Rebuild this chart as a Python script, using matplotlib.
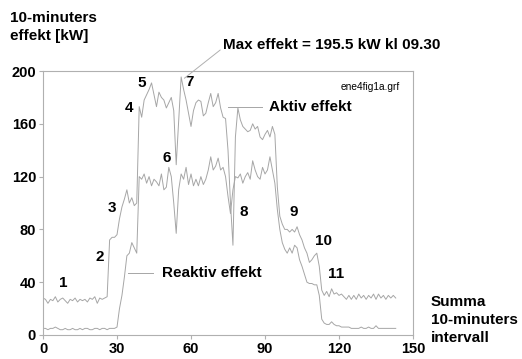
import numpy as np
import matplotlib
matplotlib.use("Agg")
import matplotlib.pyplot as plt

plt.rcParams['font.family'] = ['Liberation Sans', 'DejaVu Sans']

# 10-minute intervals 0..143
aktiv = [28, 27, 24, 27, 26, 29, 25, 27, 28, 26, 24, 27, 26, 28, 25, 27, 26, 27, 25, 28,
         27, 29, 24, 28, 27, 28, 29, 72, 74, 74, 76, 88, 97, 103, 110, 100, 104, 98, 100, 173,
         165, 178, 182, 186, 191, 182, 173, 184, 180, 178, 172, 176, 180, 170, 129, 162, 195.5, 186, 178, 168,
         158, 170, 176, 178, 177, 166, 168, 176, 183, 173, 176, 183, 172, 165, 164, 140, 100, 68, 150, 172,
         163, 158, 156, 154, 155, 160, 156, 158, 150, 148, 152, 155, 150, 158, 152, 112, 90, 84, 80, 80,
         78, 80, 78, 82, 76, 72, 66, 62, 55, 57, 60, 62, 52, 34, 30, 33, 29, 35, 31, 32,
         30, 31, 29, 27, 30, 27, 30, 27, 31, 28, 30, 27, 30, 28, 31, 27, 31, 28, 30, 27,
         30, 28, 30, 28]
reaktiv = [5, 5, 4, 5, 5, 6, 5, 4, 4, 5, 4, 4, 5, 4, 4, 5, 4, 5, 5, 4,
           4, 5, 5, 4, 5, 5, 4, 5, 5, 5, 6, 20, 30, 44, 60, 62, 70, 66, 62, 120,
           118, 122, 115, 120, 113, 118, 116, 113, 122, 110, 112, 127, 120, 100, 77, 110, 122, 118, 127, 114,
           122, 113, 118, 113, 120, 114, 118, 125, 135, 125, 128, 134, 125, 127, 120, 105, 92, 110, 120, 119,
           122, 115, 120, 123, 118, 132, 125, 120, 118, 127, 122, 125, 135, 125, 115, 95, 80, 70, 65, 62,
           66, 62, 68, 66, 57, 52, 46, 40, 39, 39, 38, 38, 30, 12, 9, 8, 8, 10, 8, 7,
           7, 6, 6, 6, 6, 5, 5, 5, 5, 6, 5, 5, 6, 5, 5, 7, 5, 5, 5, 5,
           5, 5, 5, 5]
x = np.arange(len(aktiv))

# numbered points: (label, x, y)
markers = [("1", 8.1, 39.5), ("2", 23.1, 59), ("3", 28, 96), ("4", 34.7, 172),
           ("5", 40, 191), ("6", 50, 134), ("7", 59.6, 191.5), ("8", 81.5, 93),
           ("9", 101.7, 93.5), ("10", 113.9, 71.5), ("11", 118.8, 46.5)]

xticks = [0, 30, 60, 90, 120, 150]
yticks = [0, 40, 80, 120, 160, 200]

gray = '#a6a6a6'
fs = 11

fig = plt.figure(figsize=(5.22, 3.59), dpi=100, facecolor='white')
ax = fig.add_axes([0.0824, 0.0669, 0.7088, 0.7353])

ax.plot(x, aktiv, color=gray, lw=0.7)
ax.plot(x, reaktiv, color=gray, lw=0.7)

ax.set_xlim(0, 150)
ax.set_ylim(0, 200)
ax.set_xticks(xticks)
ax.set_yticks(yticks)
for s in ax.spines.values():
    s.set_color('#b0b0b0')
    s.set_linewidth(0.8)
ax.tick_params(direction='out', length=3, width=0.8, color='#b0b0b0',
               labelsize=10.5, pad=2)
for lab in ax.get_xticklabels() + ax.get_yticklabels():
    lab.set_fontweight('bold')

for lab, mx, my in markers:
    ax.text(mx, my, lab, fontsize=fs, fontweight='bold', ha='center', va='center')

# series labels
ax.plot([75, 88.8], [172.7, 172.7], color=gray, lw=0.7)
ax.text(91.6, 172.7, "Aktiv effekt", fontsize=fs, fontweight='bold', va='center')
ax.plot([34.5, 44.6], [47, 47], color=gray, lw=0.7)
ax.text(48.2, 47, "Reaktiv effekt", fontsize=fs, fontweight='bold', va='center')

ax.text(144.7, 188, "ene4fig1a.grf", fontsize=7.3, ha='right', va='center')

ax.annotate("Max effekt = 195.5 kW kl 09.30", xy=(57.3, 194.5), xytext=(223, 314),
            textcoords='figure pixels', fontsize=fs, fontweight='bold', va='center',
            arrowprops=dict(arrowstyle='-', color='#b0b0b0', lw=0.7,
                            shrinkA=0, shrinkB=0, relpos=(0, 0.3)),
            annotation_clip=False)

fig.text(10 / 522, 1 - 27 / 359, "10-minuters\neffekt [kW]", fontsize=fs,
         fontweight='bold', ha='left', va='center', linespacing=1.4)
fig.text(431 / 522, 1 - 320 / 359, "Summa\n10-minuters\nintervall", fontsize=fs,
         fontweight='bold', ha='left', va='center', linespacing=1.35)

fig.savefig("out.png", dpi=100)
